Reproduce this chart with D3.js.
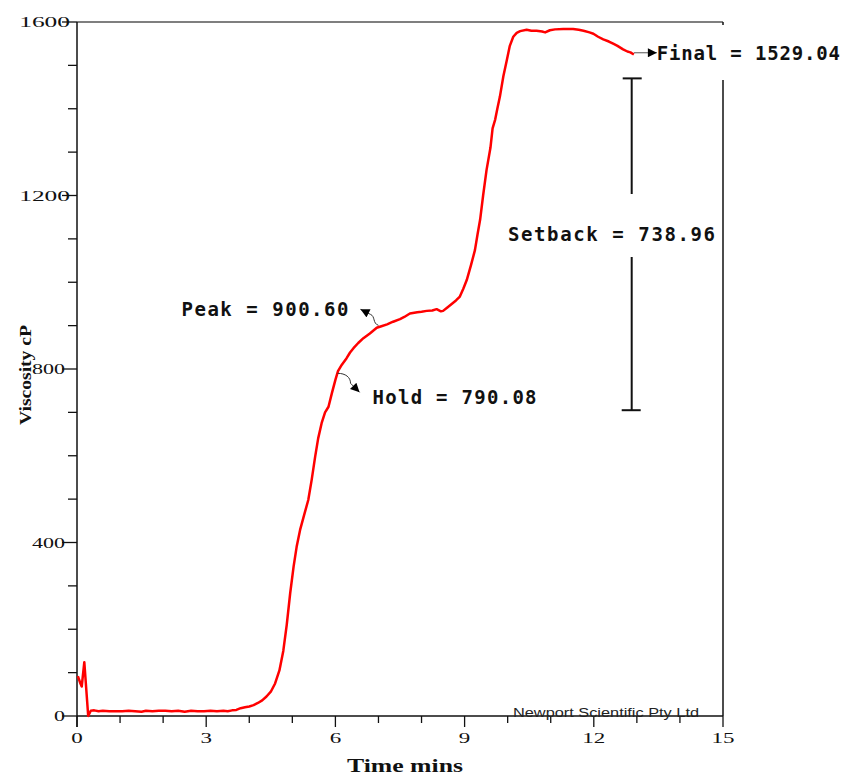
<!DOCTYPE html>
<html><head><meta charset="utf-8">
<script src="https://cdn.jsdelivr.net/npm/d3@7"></script>
<style>body{margin:0;background:#fff}svg{display:block}</style>
</head><body>
<svg id="c" width="843" height="776"></svg>
<script>
const timeMins = [0.02,0.08,0.11,0.17,0.26,0.32,0.40,0.50,0.60,0.75,0.90,1.05,1.20,1.35,1.50,1.60,1.75,1.90,2.05,2.20,2.35,2.50,2.65,2.80,2.95,3.10,3.25,3.40,3.50,3.60,3.70,3.80,3.90,4.00,4.10,4.20,4.30,4.40,4.50,4.60,4.70,4.79,4.87,4.95,5.03,5.10,5.18,5.27,5.37,5.45,5.53,5.60,5.68,5.76,5.84,5.92,6.00,6.06,6.15,6.26,6.34,6.42,6.53,6.65,6.80,6.96,7.05,7.20,7.34,7.50,7.60,7.73,7.90,8.00,8.12,8.25,8.35,8.45,8.50,8.60,8.70,8.80,8.89,8.97,9.05,9.15,9.24,9.30,9.36,9.43,9.51,9.60,9.65,9.71,9.76,9.82,9.90,9.98,10.05,10.13,10.21,10.29,10.44,10.55,10.67,10.80,10.87,10.98,11.10,11.29,11.52,11.65,11.76,11.90,11.99,12.10,12.22,12.35,12.45,12.55,12.68,12.78,12.85,12.93];
const viscosity = [92,75,68,124,0,12,13,11,12,11,11,11,12,11,10,12,11,12,12,11,12,10,12,11,11,12,11,12,11,13,14,18,20,22,25,30,36,45,56,75,105,150,210,283,345,390,429,462,498,545,598,640,675,700,713,745,775,795,810,825,838,848,860,871,882,895,898,903,909,915,920,928,931,932,934,935,938,933,934,942,950,958,967,985,1005,1040,1074,1110,1144,1200,1259,1310,1355,1375,1400,1428,1475,1512,1545,1566,1575,1579,1582,1580,1580,1578,1576,1581,1583,1584,1584,1582,1580,1576,1573,1566,1560,1555,1550,1545,1537,1532,1530,1525];
const xTickLabels = [0,3,6,9,12,15];
const yTickLabels = [0,400,800,1200,1600];
const annLabels = ["Peak = 900.60","Hold = 790.08","Final = 1529.04","Setback = 738.96"];
const annTime = [7.0, 6.05, 12.93];
const annValue = [900.60, 790.08, 1529.04];
const setbackTime = 12.88;
const setbackRange = [705, 1470];

const svg = d3.select("#c");
const x = d3.scaleLinear().domain([0,15]).range([77,723]);
const y = d3.scaleLinear().domain([0,1600]).range([716,22]);

const defs = svg.append("defs");
defs.append("marker").attr("id","arr").attr("viewBox","0 0 10 10")
  .attr("refX",10).attr("refY",5).attr("markerWidth",10).attr("markerHeight",9)
  .attr("markerUnits","userSpaceOnUse").attr("orient","auto")
  .append("path").attr("d","M0,0 L10,5 L0,10 z").attr("fill","#000");

// frame
svg.append("line").attr("x1",x(0)).attr("x2",x(15)).attr("y1",y(1600)).attr("y2",y(1600))
  .attr("stroke","#555").attr("stroke-width",1.5);
svg.append("line").attr("x1",x(15)).attr("x2",x(15)).attr("y1",y(1600)).attr("y2",y(0))
  .attr("stroke","#111").attr("stroke-width",1.5);

// x axis
const xa = svg.append("g");
xa.append("line").attr("x1",x(0)).attr("x2",x(15)).attr("y1",y(0)).attr("y2",y(0)).attr("stroke","#111").attr("stroke-width",1.5);
d3.range(0,16).forEach(t=>{
  const major = t%3===0;
  xa.append("line").attr("x1",x(t)).attr("x2",x(t)).attr("y1",y(0)).attr("y2",y(0)+(major?11:7))
    .attr("stroke","#111").attr("stroke-width",1.3);
});
xTickLabels.forEach(t=>{
  const s = String(t);
  xa.append("text").attr("x",x(t)).attr("y",y(0)+27).attr("text-anchor","middle")
    .attr("font-family","'Liberation Serif','DejaVu Serif',serif").attr("font-size",14)
    .attr("textLength",s.length*11.5).attr("lengthAdjust","spacingAndGlyphs").attr("fill","#111").text(s);
});
svg.append("text").attr("x",(x(0)+x(15))/2+5).attr("y",772).attr("text-anchor","middle")
  .attr("font-family","'Liberation Serif','DejaVu Serif',serif").attr("font-weight","bold").attr("font-size",18)
  .attr("textLength",116).attr("lengthAdjust","spacingAndGlyphs").attr("fill","#111").text("Time mins");

// y axis
const ya = svg.append("g");
ya.append("line").attr("x1",x(0)).attr("x2",x(0)).attr("y1",y(1600)).attr("y2",y(0)+11).attr("stroke","#111").attr("stroke-width",1.5);
d3.range(0,1601,100).forEach(v=>{
  const major = v%400===0;
  ya.append("line").attr("x1",x(0)).attr("x2",x(0)-(major?15:9)).attr("y1",y(v)).attr("y2",y(v))
    .attr("stroke","#111").attr("stroke-width",1.3);
});
ya.append("text").attr("transform",`translate(31,375) rotate(-90)`).attr("text-anchor","middle")
  .attr("font-family","'Liberation Serif','DejaVu Serif',serif").attr("font-weight","bold").attr("font-size",17)
  .attr("textLength",100).attr("lengthAdjust","spacingAndGlyphs").attr("fill","#111").text("Viscosity cP");
yTickLabels.forEach(v=>{
  const s = String(v);
  ya.append("text").attr("x",x(0)-(s.length>3?7:12)).attr("y",y(v)+5).attr("text-anchor","end")
    .attr("font-family","'Liberation Serif','DejaVu Serif',serif").attr("font-size",14)
    .attr("textLength",s.length*(s.length>3?12.7:11)).attr("lengthAdjust","spacingAndGlyphs").attr("fill","#111").text(s);
});

// company text
svg.append("text").attr("x",513).attr("y",y(0)+1).attr("font-family","'Liberation Sans',Arial,sans-serif")
  .attr("font-size",12.5).attr("textLength",186).attr("lengthAdjust","spacingAndGlyphs").attr("fill","#222")
  .text("Newport Scientific Pty Ltd");

// curve
const data = timeMins.map((t,i)=>({t, v:viscosity[i]}));
svg.append("path").datum(data).attr("fill","none").attr("stroke","#ff0000").attr("stroke-width",2.5)
  .attr("stroke-linejoin","round")
  .attr("d", d3.line().x(d=>x(d.t)).y(d=>y(d.v)));

const annFont = "'DejaVu Sans Mono','Liberation Mono',monospace";
function annText(s, px, py, len){
  svg.append("text").attr("x",px).attr("y",py).attr("font-family",annFont).attr("font-weight","bold")
    .attr("font-size",19).attr("textLength",len).attr("lengthAdjust","spacing").attr("fill","#111").text(s);
}

// Peak
{
  const ax = x(annTime[0]), ay = y(annValue[0]);
  svg.append("path").attr("d",`M${ax},${ay} C${ax-6},${ay-2} ${ax-3},${ay-9} ${ax-8},${ay-11} L${ax-18},${ay-16}`)
    .attr("fill","none").attr("stroke","#333").attr("stroke-width",1).attr("marker-end","url(#arr)");
  annText(annLabels[0], ax-197, ay-9, 167);
}
// Hold
{
  const ax = x(annTime[1]), ay = y(annValue[1]);
  svg.append("path").attr("d",`M${ax},${ay} C${ax+8},${ay} ${ax+13},${ay+4} ${ax+13},${ay+10} L${ax+22},${ay+19}`)
    .attr("fill","none").attr("stroke","#333").attr("stroke-width",1).attr("marker-end","url(#arr)");
  annText(annLabels[1], ax+35, ay+31, 164);
}
// Final
{
  const ax = x(annTime[2]), ay = y(annValue[2]);
  svg.append("rect").attr("x",ax+16).attr("y",y(1600)+3).attr("width",843-ax-16).attr("height",55).attr("fill","#fff");
  svg.append("path").attr("d",`M${ax},${ay} L${ax+23},${ay}`)
    .attr("fill","none").attr("stroke","#555").attr("stroke-width",1).attr("marker-end","url(#arr)");
  annText(annLabels[2], ax+23, ay+7, 183);
}
// Setback bar
{
  const bx = x(setbackTime), yTop = y(setbackRange[1]), yBot = y(setbackRange[0]);
  svg.append("line").attr("x1",bx).attr("x2",bx).attr("y1",yTop).attr("y2",yBot).attr("stroke","#111").attr("stroke-width",2);
  svg.append("line").attr("x1",bx-9).attr("x2",bx+10).attr("y1",yTop).attr("y2",yTop).attr("stroke","#111").attr("stroke-width",2);
  svg.append("line").attr("x1",bx-10).attr("x2",bx+9).attr("y1",yBot).attr("y2",yBot).attr("stroke","#111").attr("stroke-width",2);
  svg.append("rect").attr("x",503).attr("y",194).attr("width",214).attr("height",63).attr("fill","#fff");
  annText(annLabels[3], 508, 241, 207);
}
</script>
</body></html>
